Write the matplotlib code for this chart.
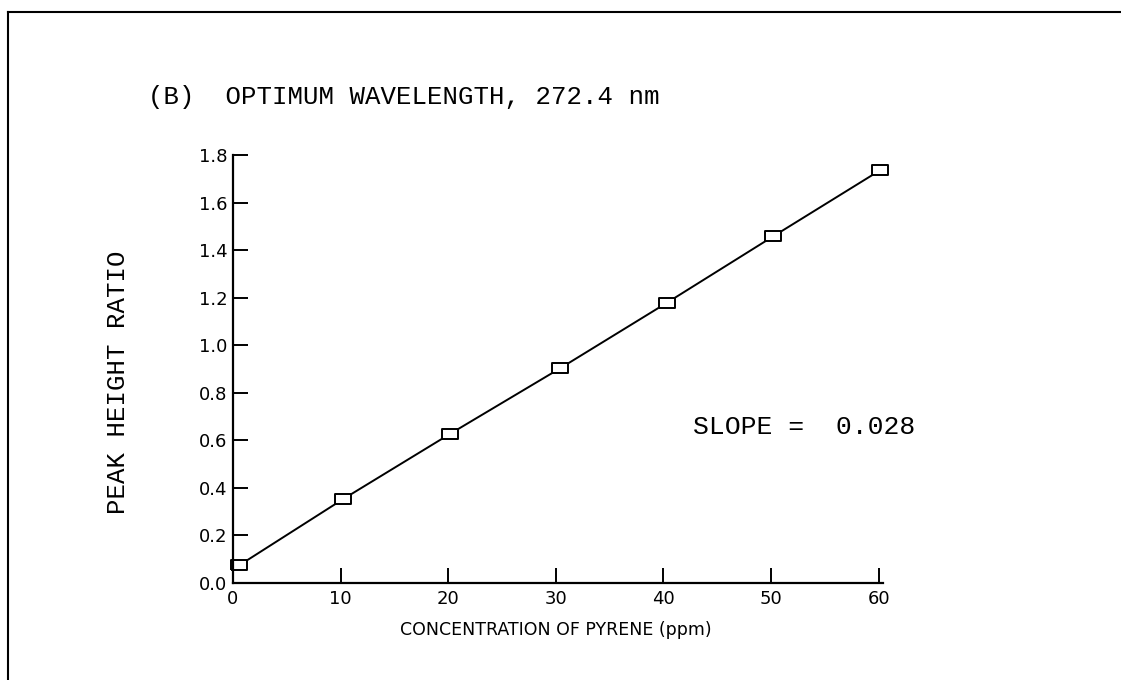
import numpy as np
import matplotlib.pyplot as plt
from matplotlib.lines import Line2D

# concentration (ppm) and peak height ratio
concentracao = [0.6, 10.2, 20.2, 30.4, 40.3, 50.2, 60.1]
razao = [0.075, 0.352, 0.628, 0.903, 1.178, 1.458, 1.735]

x_ticks = [0, 10, 20, 30, 40, 50, 60]
y_ticks = [0.0, 0.2, 0.4, 0.6, 0.8, 1.0, 1.2, 1.4, 1.6, 1.8]

titulo = "(B)  OPTIMUM WAVELENGTH, 272.4 nm"
rotulo_y = "PEAK HEIGHT RATIO"
rotulo_x = "CONCENTRATION OF PYRENE (ppm)"
texto_slope = "SLOPE =  0.028"

mono = "Liberation Mono"

fig = plt.figure(figsize=(11.21, 6.80), dpi=100)
ax = fig.add_axes([233 / 1121, 97 / 680, 650 / 1121, 428 / 680])

# marcador retangular (mais largo que alto)
ret = [(-1.4, -1), (1.4, -1), (1.4, 1), (-1.4, 1), (-1.4, -1)]
ax.plot(concentracao, razao, color="black", lw=1.4,
        marker=ret, markersize=11, markerfacecolor="white",
        markeredgecolor="black", markeredgewidth=1.4, clip_on=False)

ax.set_xlim(0, 60.4)
ax.set_ylim(0, 1.8)
ax.set_xticks(x_ticks)
ax.set_yticks(y_ticks)
ax.set_xticklabels([str(v) for v in x_ticks])
ax.set_yticklabels([f"{v:.1f}" for v in y_ticks])

for lado in ["top", "right"]:
    ax.spines[lado].set_visible(False)
for lado in ["left", "bottom"]:
    ax.spines[lado].set_linewidth(1.6)

ax.tick_params(axis="both", direction="in", length=11, width=1.4,
               labelsize=13)
ax.tick_params(axis="y", pad=4)
ax.tick_params(axis="x", pad=5)

ax.set_ylabel(rotulo_y, family=mono, fontsize=18.5)
ax.yaxis.set_label_coords(-0.158, 0.47)

fig.text(148 / 1121, 1 - 97 / 680, titulo, family=mono, fontsize=18.5,
         ha="left", va="center")
fig.text(693 / 1121, 1 - 427 / 680, texto_slope, family=mono, fontsize=19,
         ha="left", va="center")
fig.text(556 / 1121, 1 - 630 / 680, rotulo_x, fontsize=12.5,
         ha="center", va="center")

# moldura da página (linha superior e esquerda)
fig.add_artist(Line2D([8 / 1121, 8 / 1121], [0, 1 - 12 / 680],
                      transform=fig.transFigure, color="black", lw=1.5))
fig.add_artist(Line2D([8 / 1121, 1], [1 - 12 / 680, 1 - 12 / 680],
                      transform=fig.transFigure, color="black", lw=1.5))

fig.savefig("out.png", dpi=100)
